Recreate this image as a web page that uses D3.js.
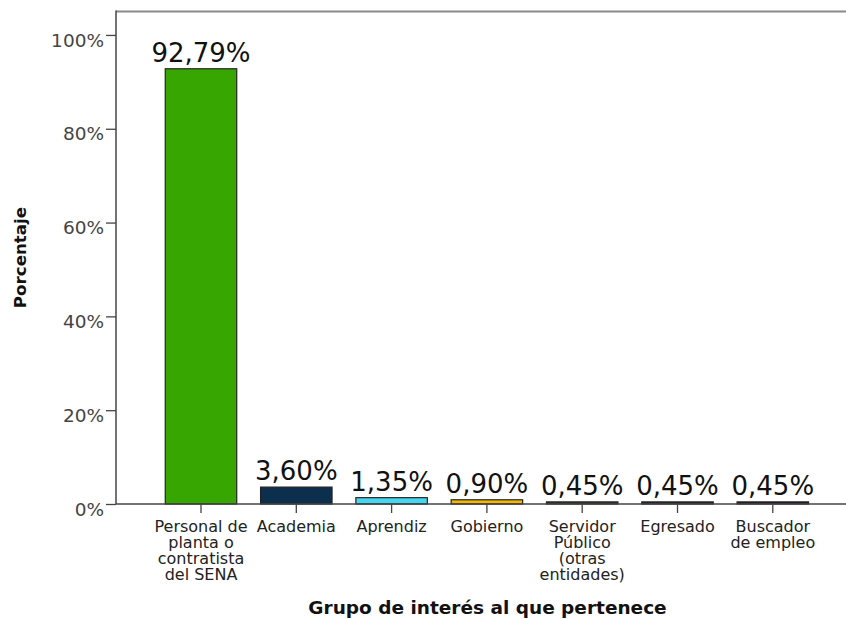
<!DOCTYPE html>
<html>
<head>
<meta charset="utf-8">
<script src="https://cdn.jsdelivr.net/npm/d3@7"></script>
<style>
  html, body { margin: 0; padding: 0; background: #fff; }
  svg { display: block; }
  text { font-family: "DejaVu Sans", sans-serif; }
</style>
</head>
<body>
<svg id="chart" width="846" height="619"></svg>
<script>
// ---- data ----
const categories = [
  "Personal de planta o contratista del SENA",
  "Academia",
  "Aprendiz",
  "Gobierno",
  "Servidor Público (otras entidades)",
  "Egresado",
  "Buscador de empleo"
];
const categoryLines = [
  ["Personal de", "planta o", "contratista", "del SENA"],
  ["Academia"],
  ["Aprendiz"],
  ["Gobierno"],
  ["Servidor", "Público", "(otras", "entidades)"],
  ["Egresado"],
  ["Buscador", "de empleo"]
];
const values = [92.79, 3.60, 1.35, 0.90, 0.45, 0.45, 0.45];
const barColors = ["#38a600", "#0c2f4e", "#46d6f0", "#f4b800", "#2c3c2c", "#2d2933", "#2b1a2f"];
const yTicks = [0, 20, 40, 60, 80, 100];
const xTitle = "Grupo de interés al que pertenece";
const yTitle = "Porcentaje";

// ---- layout ----
const svg = d3.select("#chart");
const mLeft = 116, mRight = 846, mTop = 11.5, mBottom = 504;
const FONT = "'DejaVu Sans', sans-serif";

const x = d3.scaleBand()
  .domain(categories)
  .range([153.35, 820.45])
  .paddingInner(0.25)
  .paddingOuter(0.125);

const y = d3.scaleLinear()
  .domain([0, 105])
  .range([mBottom, mTop]);

// frame
svg.append("line")
  .attr("x1", mLeft).attr("x2", mRight)
  .attr("y1", mTop).attr("y2", mTop)
  .attr("stroke", "#8a8a8a").attr("stroke-width", 2);

// bars
svg.append("g").selectAll("rect")
  .data(values)
  .join("rect")
  .attr("x", (d, i) => x(categories[i]))
  .attr("width", x.bandwidth())
  .attr("y", d => y(d))
  .attr("height", d => y(0) - y(d))
  .attr("fill", (d, i) => barColors[i])
  .attr("stroke", "#222")
  .attr("stroke-width", 1.2);

// y axis
const yAxis = d3.axisLeft(y)
  .tickValues(yTicks)
  .tickFormat(d => d + "%")
  .tickSize(10)
  .tickPadding(2);
const gy = svg.append("g")
  .attr("transform", `translate(${mLeft},0)`)
  .call(yAxis);
gy.select(".domain").remove();
gy.selectAll(".tick line").attr("stroke", "#444").attr("stroke-width", 1.3);
gy.selectAll(".tick text")
  .attr("fill", "#444")
  .attr("dy", "0.6em")
  .style("font-size", "18.5px")
  .style("font-family", FONT);
svg.append("line")
  .attr("x1", mLeft).attr("x2", mLeft)
  .attr("y1", mTop - 1).attr("y2", mBottom)
  .attr("stroke", "#444").attr("stroke-width", 1.5);

// x axis
const xAxis = d3.axisBottom(x).tickSize(9).tickFormat("");
const gx = svg.append("g")
  .attr("transform", `translate(0,${mBottom})`)
  .call(xAxis);
gx.select(".domain").remove();
gx.selectAll(".tick line").attr("stroke", "#444").attr("stroke-width", 1.3);
svg.append("line")
  .attr("x1", mLeft).attr("x2", mRight)
  .attr("y1", mBottom).attr("y2", mBottom)
  .attr("stroke", "#444").attr("stroke-width", 1.5);

// x category labels
const lab = svg.append("g").selectAll("text")
  .data(categories)
  .join("text")
  .attr("text-anchor", "middle")
  .attr("fill", "#222")
  .style("font-size", "16px")
  .attr("transform", d => `translate(${x(d) + x.bandwidth() / 2},0)`);
lab.each(function(d, i) {
  d3.select(this).selectAll("tspan")
    .data(categoryLines[i])
    .join("tspan")
    .attr("x", 0)
    .attr("y", (t, j) => 532 + j * 16)
    .text(t => t);
});

// value labels
svg.append("g").selectAll("text")
  .data(values)
  .join("text")
  .attr("x", (d, i) => x(categories[i]) + x.bandwidth() / 2)
  .attr("y", d => y(d) - 7)
  .attr("text-anchor", "middle")
  .attr("fill", "#111")
  .style("font-size", "26px")
  .text(d => d.toFixed(2).replace(".", ",") + "%");

// axis titles
svg.append("text")
  .attr("x", 487.5)
  .attr("y", 614)
  .attr("text-anchor", "middle")
  .attr("fill", "#111")
  .style("font-size", "18.5px")
  .style("font-weight", "bold")
  .text(xTitle);

svg.append("text")
  .attr("transform", `translate(26,257.5) rotate(-90)`)
  .attr("text-anchor", "middle")
  .attr("fill", "#111")
  .style("font-size", "16.7px")
  .style("font-weight", "bold")
  .text(yTitle);
</script>
</body>
</html>
